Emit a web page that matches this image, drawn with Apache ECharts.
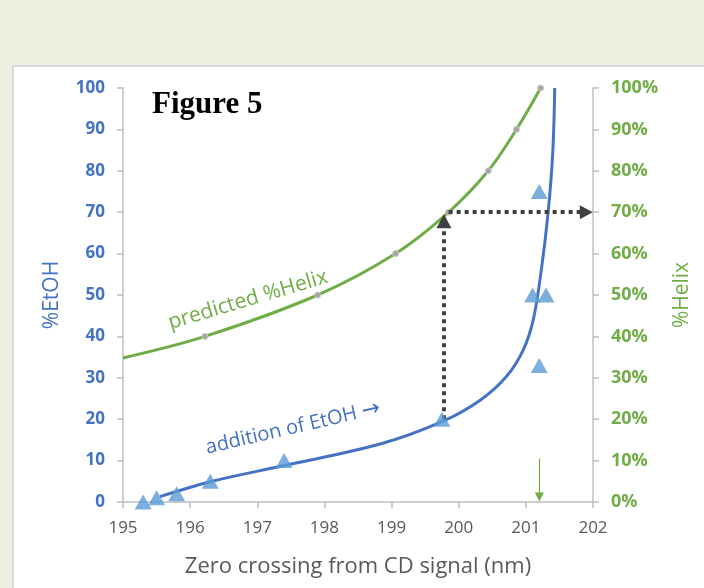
<!DOCTYPE html>
<html>
<head>
<meta charset="utf-8">
<script src="https://cdn.jsdelivr.net/npm/echarts@6/dist/echarts.min.js"></script>
<style>
html,body{margin:0;padding:0;background:#ebefdf;width:704px;height:588px;overflow:hidden;}
#panel{position:absolute;left:12px;top:65px;width:700px;height:530px;background:#fff;border:2px solid #d9d9d9;box-sizing:border-box;}
#chart{position:absolute;left:0;top:0;width:704px;height:588px;}
</style>
</head>
<body>
<div id="panel"></div>
<div id="chart"></div>
<script>
// Measured triangles: [zero crossing nm, %EtOH]
const etohPoints = [[195.3,0],[195.5,1],[195.8,2],[196.3,5],[197.4,10],[199.75,20],[201.2,33],[201.1,50],[201.3,50],[201.2,75]];
// Fitted blue curve
const etohCurve = [[195.55,1.3],[196.3,4.9],[197.4,8.8],[198.83,14],[199.75,19.4],[200.32,24.6],[200.71,30.3],[200.96,36.7],[201.11,44],[201.23,56],[201.33,69.7],[201.40,84.2],[201.43,100]];
// Predicted %Helix curve (fraction); first point has no marker
const helixStart = [195, 0.348];
const helixPoints = [[196.22,0.40],[197.9,0.50],[199.06,0.60],[199.85,0.70],[200.44,0.80],[200.86,0.90],[201.22,1.00]];
// Annotation arrows
const verticalArrow = [[199.78,20],[199.78,67.8]];
const horizontalArrow = [[199.85,0.70],[201.9,0.70]];
const greenArrow = [[201.2,10.5],[201.2,1.2]];
// Axis ticks
const xTicks = [195,196,197,198,199,200,201,202];

const blue = '#4472c4', green = '#70ad47', tri = '#5b9bd5', dark = '#404040';
const font = 'Open Sans';

const chart = echarts.init(document.getElementById('chart'), null, {renderer:'canvas'});
const helixData = [{value: helixStart, symbol:'none'}].concat(helixPoints.map(p => ({value:p})));

chart.setOption({
  animation:false,
  backgroundColor:'transparent',
  grid:{left:123,right:111,top:88,bottom:86},
  xAxis:{
    type:'value', min:xTicks[0], max:xTicks[xTicks.length-1], interval:1,
    name:'Zero crossing from CD signal (nm)', nameLocation:'middle', nameGap:54,
    nameTextStyle:{color:'#595959',fontSize:22,fontFamily:font},
    axisLine:{show:true,onZero:false,lineStyle:{color:'#bfbfbf',width:1.5}},
    axisTick:{show:true,length:6,lineStyle:{color:'#bfbfbf',width:1.5}},
    axisLabel:{color:'#595959',fontSize:17,fontFamily:font,margin:18},
    splitLine:{show:false}
  },
  yAxis:[{
    type:'value', min:0, max:100, interval:10, position:'left',
    name:'%EtOH', nameLocation:'middle', nameGap:60,
    nameTextStyle:{color:blue,fontSize:21,fontFamily:font},
    axisLine:{show:true,lineStyle:{color:'#bfbfbf',width:1.5}},
    axisTick:{show:true,length:6,lineStyle:{color:'#bfbfbf',width:1.5}},
    axisLabel:{color:blue,fontSize:17,fontWeight:'bold',fontFamily:font,margin:18},
    splitLine:{show:false}
  },{
    type:'value', min:0, max:1, interval:0.1, position:'right',
    name:'%Helix', nameLocation:'middle', nameGap:79,
    nameTextStyle:{color:green,fontSize:21,fontFamily:font},
    axisLine:{show:true,lineStyle:{color:'#bfbfbf',width:1.5}},
    axisTick:{show:true,length:6,lineStyle:{color:'#bfbfbf',width:1.5}},
    axisLabel:{color:green,fontSize:18,fontWeight:'bold',fontFamily:font,margin:18,
      formatter:v=>Math.round(v*100)+'%'},
    splitLine:{show:false}
  }],
  series:[
    {
      type:'line', yAxisIndex:1, data:helixData, smooth:0.35,
      lineStyle:{color:green,width:3}, symbol:'circle', symbolSize:6,
      itemStyle:{color:'#a5a5a5',borderColor:'#c9c9c9',borderWidth:1}, z:3,
      markLine:{
        silent:true, symbol:['none','triangle'], symbolSize:[14,13],
        lineStyle:{color:dark,width:4,type:[4,4],cap:'butt'}, label:{show:false},
        data:[[{coord:horizontalArrow[0]},{coord:horizontalArrow[1]}]]
      }
    },
    {
      type:'line', yAxisIndex:0, data:etohCurve, smooth:0.35,
      showSymbol:false, symbol:'none', lineStyle:{color:blue,width:3}, z:4,
      markLine:{
        silent:true, symbol:['none','triangle'], symbolSize:[15,14],
        lineStyle:{color:dark,width:4,type:[4,4],cap:'butt'}, label:{show:false},
        data:[[{coord:verticalArrow[0]},{coord:verticalArrow[1]}]]
      }
    },
    {
      type:'scatter', yAxisIndex:0, data:etohPoints, symbol:'triangle', symbolSize:[17,15],
      itemStyle:{color:tri}, z:5,
      markLine:{
        silent:true, symbol:['none','triangle'], symbolSize:[9,9],
        lineStyle:{color:green,width:1.2,type:'solid'}, label:{show:false},
        data:[[{coord:greenArrow[0]},{coord:greenArrow[1]}]]
      }
    }
  ],
  graphic:[
    {type:'text', left:152, top:89, style:{text:'Figure 5', fill:'#000', font:'bold 31px "Liberation Serif"'}},
    {type:'text', x:248, y:300, rotation:16.4*Math.PI/180,
      style:{text:'predicted %Helix', fill:green, font:'21px "Open Sans"', textAlign:'center', textVerticalAlign:'middle'}},
    {type:'text', x:293, y:428, rotation:13*Math.PI/180,
      style:{text:'{a|addition of EtOH }{b|\u2192}', fill:blue, textAlign:'center', textVerticalAlign:'middle',
        rich:{a:{fontFamily:'Open Sans',fontSize:20,fill:blue},b:{fontFamily:'DejaVu Sans',fontSize:22,fill:blue}}}}
  ]
});
</script>
</body>
</html>
